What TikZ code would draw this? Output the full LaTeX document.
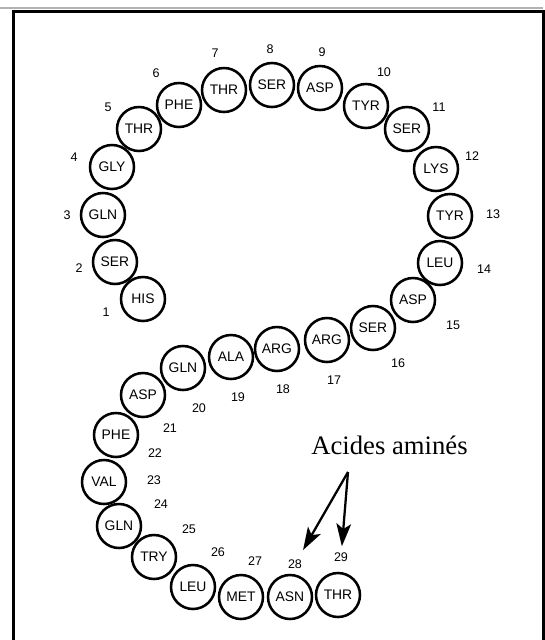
\documentclass[tikz,border=0pt]{standalone}
\usepackage{fontspec}
\setmainfont{Liberation Serif}
\setsansfont{Liberation Sans}
\usepackage{tikz}
\usetikzlibrary{arrows.meta}

\begin{document}
\begin{tikzpicture}[x=0.75pt,y=-0.75pt,
  acide/.style={circle,draw,line width=1.9pt,minimum size=33pt,inner sep=0pt,font=\sffamily\fontsize{10.4}{11}\selectfont},
  num/.style={inner sep=0pt,font=\sffamily\fontsize{9.4}{10}\selectfont},
  fleche/.style={line width=1.7pt,-{Stealth[length=17pt,width=11pt,inset=4pt]}}]
\useasboundingbox (0,0) rectangle (545,640);
\draw [gray!60,line width=1.2pt] (0,8) -- (543,8);
\draw [line width=2.2pt] (13.5,640) -- (13.5,11.5) -- (545,11.5);
\draw [line width=1.6pt] (543.5,11.5) -- (543.5,640);

\node at (143,299) [acide] (his1)  {HIS};
\node at (115,262) [acide] (ser2)  {SER};
\node at (103,215) [acide] (gln3)  {GLN};
\node at (112,167) [acide] (gly4)  {GLY};
\node at (139,129) [acide] (thr5)  {THR};
\node at (179,105) [acide] (phe6)  {PHE};
\node at (224,90)  [acide] (thr7)  {THR};
\node at (272,85)  [acide] (ser8)  {SER};
\node at (320,88)  [acide] (asp9)  {ASP};
\node at (366,106) [acide] (tyr10) {TYR};
\node at (407,129) [acide] (ser11) {SER};
\node at (436,169) [acide] (lys12) {LYS};
\node at (450,216) [acide] (tyr13) {TYR};
\node at (440,263) [acide] (leu14) {LEU};
\node at (413,300) [acide] (asp15) {ASP};
\node at (373,328) [acide] (ser16) {SER};
\node at (327,340) [acide] (arg17) {ARG};
\node at (277,349) [acide] (arg18) {ARG};
\node at (231,357) [acide] (ala19) {ALA};
\node at (183,368) [acide] (gln20) {GLN};
\node at (143,395) [acide] (asp21) {ASP};
\node at (116,435) [acide] (phe22) {PHE};
\node at (104,482) [acide] (val23) {VAL};
\node at (119,526) [acide] (gln24) {GLN};
\node at (154,557) [acide] (try25) {TRY};
\node at (193,587) [acide] (leu26) {LEU};
\node at (241,597) [acide] (met27) {MET};
\node at (290,597) [acide] (asn28) {ASN};
\node at (338,595) [acide] (thr29) {THR};

\node at (106,312) [num] (n1)  {1};
\node at (79,268)  [num] (n2)  {2};
\node at (67,215)  [num] (n3)  {3};
\node at (74,157)  [num] (n4)  {4};
\node at (108,107) [num] (n5)  {5};
\node at (156,73)  [num] (n6)  {6};
\node at (215,53)  [num] (n7)  {7};
\node at (270,49)  [num] (n8)  {8};
\node at (322,52)  [num] (n9)  {9};
\node at (384,72)  [num] (n10) {10};
\node at (439,107) [num] (n11) {11};
\node at (472,156) [num] (n12) {12};
\node at (493,214) [num] (n13) {13};
\node at (484,269) [num] (n14) {14};
\node at (453,325) [num] (n15) {15};
\node at (398,363) [num] (n16) {16};
\node at (334,380) [num] (n17) {17};
\node at (283,389) [num] (n18) {18};
\node at (238,397) [num] (n19) {19};
\node at (199,408) [num] (n20) {20};
\node at (170,428) [num] (n21) {21};
\node at (155,453) [num] (n22) {22};
\node at (154,480) [num] (n23) {23};
\node at (161,504) [num] (n24) {24};
\node at (189,529) [num] (n25) {25};
\node at (218,552) [num] (n26) {26};
\node at (255,561) [num] (n27) {27};
\node at (295,564) [num] (n28) {28};
\node at (341,557) [num] (n29) {29};

\node at (389.5,454) [anchor=base,inner sep=0pt,font=\fontsize{20}{22}\selectfont] (titre) {Acides aminés};
\coordinate (src) at (348,472);
\draw [fleche,shorten >=8pt] (src) -- (n28);
\draw [fleche,shorten >=4.5pt] (src) -- (n29);
\end{tikzpicture}
\end{document}
